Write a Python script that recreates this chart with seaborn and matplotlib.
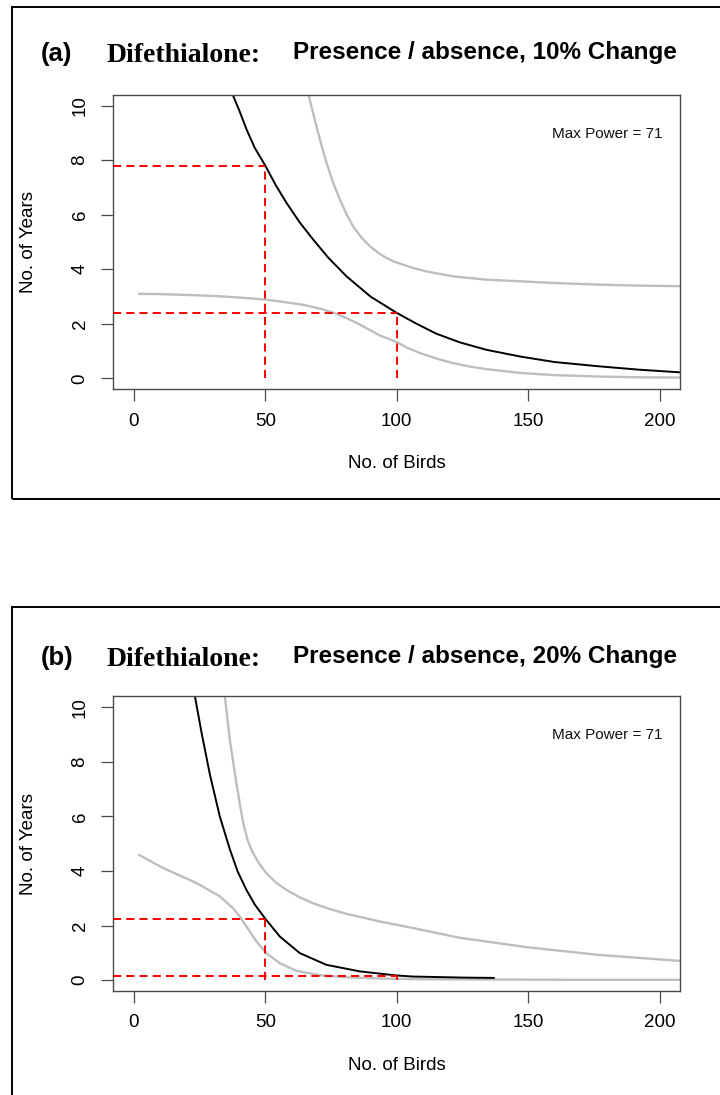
import matplotlib
matplotlib.use("Agg")
import matplotlib.pyplot as plt
from matplotlib.patches import Rectangle
import seaborn as sns
import pandas as pd

# ---------------- data ----------------
# Panel (a): 10% change
a_black_x = [36, 37.6, 40, 42.9, 46, 50, 54, 58.1, 63, 68.2, 74, 80.9, 90, 100, 107, 115, 124, 134, 147, 160, 176, 192, 208]
a_black_y = [10.85, 10.4, 9.85, 9.12, 8.45, 7.8, 7.08, 6.43, 5.73, 5.09, 4.42, 3.74, 3.0, 2.4, 2.03, 1.64, 1.32, 1.05, 0.8, 0.6, 0.45, 0.32, 0.22]

a_upper_x = [65.5, 66.3, 68, 69.5, 71.5, 73.3, 75.8, 78.4, 81, 83.4, 86.5, 89.8, 93, 96.1, 99, 102.4, 106.5, 111.3, 121.4, 134.1, 146.8, 159, 176, 192, 208]
a_upper_y = [10.8, 10.45, 9.8, 9.22, 8.5, 7.9, 7.17, 6.55, 6.0, 5.57, 5.17, 4.84, 4.6, 4.41, 4.28, 4.17, 4.04, 3.92, 3.74, 3.62, 3.56, 3.5, 3.44, 3.4, 3.38]

a_lower_x = [2, 10, 20, 32.8, 42, 50, 57, 64.4, 71, 77.1, 82, 86, 90, 93.6, 100, 104, 108.8, 115, 121.4, 128, 134.1, 146.8, 160, 176, 192, 208]
a_lower_y = [3.1, 3.09, 3.06, 3.01, 2.95, 2.89, 2.8, 2.70, 2.55, 2.37, 2.16, 1.97, 1.76, 1.57, 1.33, 1.12, 0.93, 0.73, 0.56, 0.43, 0.34, 0.2, 0.12, 0.07, 0.04, 0.03]

a_ref_birds = [50, 100]
a_ref_years = [7.8, 2.4]

# Panel (b): 20% change
b_black_x = [22.5, 23.2, 25.7, 28.9, 32.7, 36.5, 39.5, 42.8, 46, 50, 55.5, 63.1, 73.2, 85.9, 99.8, 106, 116, 126, 137]
b_black_y = [10.9, 10.43, 9.1, 7.55, 6.0, 4.8, 3.98, 3.31, 2.77, 2.25, 1.6, 0.99, 0.56, 0.32, 0.17, 0.13, 0.11, 0.09, 0.08]

b_upper_x = [34.2, 34.6, 36.5, 39, 41.5, 43.3, 45.3, 47.8, 50.4, 54, 58, 63, 68.1, 74, 80.8, 93.5, 106.1, 124, 150, 176, 208]
b_upper_y = [10.9, 10.43, 8.81, 7.22, 5.8, 5.12, 4.66, 4.25, 3.92, 3.58, 3.31, 3.04, 2.82, 2.62, 2.43, 2.15, 1.91, 1.55, 1.2, 0.93, 0.7]

b_lower_x = [2, 11.1, 23.8, 32.7, 37.7, 40.3, 42.8, 44.7, 46.6, 48.5, 50.4, 55.5, 61.8, 70.7, 81, 93.6, 110, 140, 170, 208]
b_lower_y = [4.59, 4.11, 3.56, 3.07, 2.64, 2.33, 1.97, 1.7, 1.42, 1.2, 0.99, 0.62, 0.34, 0.18, 0.1, 0.06, 0.03, 0.02, 0.01, 0.01]

b_ref_birds = [50, 100]
b_ref_years = [2.25, 0.16]

panel_tags = ["(a)", "(b)"]
panel_compound = "Difethialone:"
panel_subtitles = ["Presence / absence, 10% Change", "Presence / absence, 20% Change"]
max_power_label = "Max Power = 71"
x_ticks = [0, 50, 100, 150, 200]
y_ticks = [0, 2, 4, 6, 8, 10]
x_label = "No. of Birds"
y_label = "No. of Years"

# ---------------- style ----------------
sns.set_theme(style="white")
plt.rcParams["font.family"] = ["Liberation Sans", "DejaVu Sans"]

W, H = 720, 1095
fig = plt.figure(figsize=(W / 100, H / 100), dpi=100)
fig.patch.set_facecolor("white")

XLIM = (-7.8, 207.7)
YLIM = (-0.4, 10.4)
FRAME = "#4a4a4a"
GRAY = "#bebebe"


def fy(px):
    return 1 - px / H


panels = [
    dict(black=(a_black_x, a_black_y), upper=(a_upper_x, a_upper_y), lower=(a_lower_x, a_lower_y),
         ref=(a_ref_birds, a_ref_years), off=0, toff=0),
    dict(black=(b_black_x, b_black_y), upper=(b_upper_x, b_upper_y), lower=(b_lower_x, b_lower_y),
         ref=(b_ref_birds, b_ref_years), off=601.7, toff=604),
]

for i, p in enumerate(panels):
    off = p["off"]
    top_px, bot_px = 94.7 + off, 389.3 + off
    ax = fig.add_axes([113.3 / W, fy(bot_px), (680 - 113.3) / W, (bot_px - top_px) / H])
    ax.set_facecolor("white")

    for key, col, lw in [("upper", GRAY, 1.7), ("lower", GRAY, 1.7), ("black", "black", 1.4)]:
        xs, ys = p[key]
        df = pd.DataFrame({"birds": xs, "years": ys})
        sns.lineplot(data=df, x="birds", y="years", ax=ax, color=col, lw=lw,
                     estimator=None, sort=False)

    rb, ry = p["ref"]
    for bx, yv in zip(rb, ry):
        ax.plot([XLIM[0], bx], [yv, yv], color="red", lw=1.4, dashes=(4.2, 2.6), zorder=5)
        ax.plot([bx, bx], [0, yv], color="red", lw=1.4, dashes=(4.2, 2.6), zorder=5)

    ax.set_xlim(*XLIM)
    ax.set_ylim(*YLIM)
    ax.set_xticks(x_ticks)
    ax.set_yticks(y_ticks)
    ax.set_xticklabels([str(t) for t in x_ticks])
    ax.set_yticklabels([str(t) for t in y_ticks], rotation=90, va="center")
    ax.tick_params(axis="both", which="major", length=8.5, width=0.9, color=FRAME,
                   labelsize=13.5, labelcolor="black", direction="out")
    ax.tick_params(axis="x", pad=8.3, bottom=True)
    ax.tick_params(axis="y", pad=9.3, left=True)
    for s in ax.spines.values():
        s.set_color(FRAME)
        s.set_linewidth(1.0)
        s.set_visible(True)

    ax.set_xlabel(x_label, fontsize=13.5, color="black")
    ax.set_ylabel(y_label, fontsize=13.5, color="black")
    ax.xaxis.set_label_coords(0.5, (bot_px - (464 + off)) / (bot_px - top_px))
    ax.xaxis.label.set_va("center")
    ax.yaxis.set_label_coords((28 - 113.3) / (680 - 113.3), 0.5)
    ax.yaxis.label.set_va("center")

    ax.text(0.9688, (bot_px - (133.7 + off)) / (bot_px - top_px), max_power_label,
            transform=ax.transAxes, ha="right", va="center", fontsize=11, color="#111111")

    toff = p["toff"]
    fig.text(41 / W, fy(53.5 + toff), panel_tags[i], ha="left", va="center",
             fontsize=18.5, fontweight="bold", color="black")
    fig.text(107 / W, fy(55 + toff), panel_compound, ha="left", va="center",
             fontsize=20, fontweight="bold", family=["Liberation Serif", "DejaVu Serif"], color="black")
    fig.text(677 / W, fy(53 + toff), panel_subtitles[i], ha="right", va="center",
             fontsize=17.5, fontweight="bold", color="black")

# outer panel borders (extend beyond the canvas on the right / bottom as in the reference)
fig.add_artist(Rectangle((12 / W, fy(499)), 1.0, (499 - 7) / H, transform=fig.transFigure,
                         fill=False, ec="black", lw=1.4, clip_on=False))
fig.add_artist(Rectangle((12 / W, -0.1), 1.0, fy(607) + 0.1, transform=fig.transFigure,
                         fill=False, ec="black", lw=1.4, clip_on=False))

fig.savefig("out.png", dpi=100, facecolor="white")
